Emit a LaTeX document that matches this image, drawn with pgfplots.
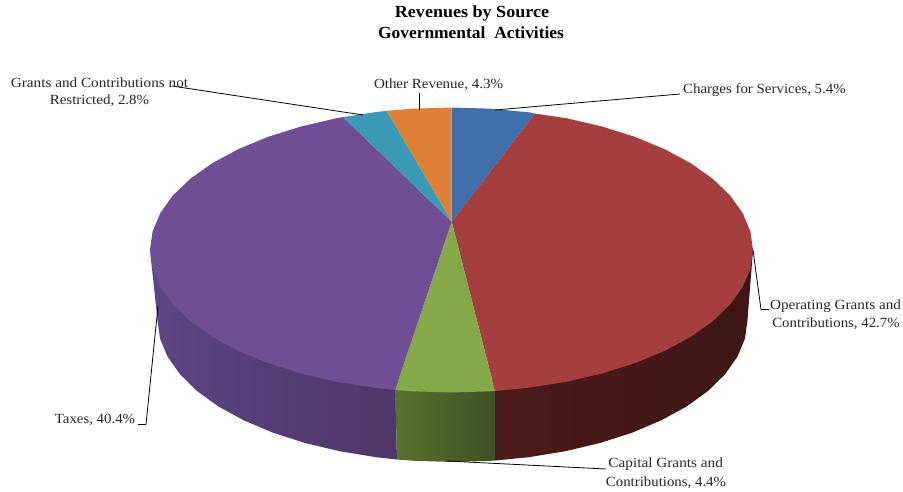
\documentclass[border=0pt]{standalone}
\usepackage{pgfplots}
\pgfplotsset{compat=1.18}
\usepackage{fontspec}
\setmainfont{Liberation Serif}
\definecolor{cblue}{RGB}{63,112,172}
\definecolor{cred}{RGB}{165,62,62}
\definecolor{cgreen}{RGB}{133,168,72}
\definecolor{cpurple}{RGB}{111,78,148}
\definecolor{cteal}{RGB}{58,154,181}
\definecolor{corange}{RGB}{222,128,53}
\definecolor{spurpleA}{RGB}{92,70,132}
\definecolor{spurpleB}{RGB}{78,54,104}
\definecolor{sgreenA}{RGB}{88,114,46}
\definecolor{sgreenB}{RGB}{62,82,36}
\definecolor{sredA}{RGB}{74,27,25}
\definecolor{sredB}{RGB}{62,22,20}
\tikzset{
    lbl/.style={font=\fontsize{14}{14}\selectfont, text=black!85, inner sep=0pt},
    ttl/.style={font=\fontsize{17}{17}\selectfont\bfseries, text=black, inner sep=0pt},
}
\begin{document}
\begin{tikzpicture}
\begin{axis}[
    scale only axis,
    width=903pt, height=492pt,
    xmin=0, xmax=903, ymin=0, ymax=492,
    y dir=reverse,
    hide axis,
    clip=false,
    no markers,
    every axis plot/.append style={line join=round},
]
% white page, keeps the picture at the full size
\addplot[fill=white, draw=none] coordinates {(0,0) (903,0) (903,492) (0,492)} --cycle;
% side walls, drawn first
\addplot[shade, left color=spurpleA, right color=spurpleB, draw=none] coordinates {
    (150,250) (157.5,320) (160,338.5) (167.6,356.8) (180,374.3) (197,391) (218.4,406.5)
    (243.9,420.4) (272.9,432.7) (305,443) (339.6,451.2) (376.2,457.2) (397,459.5) (395,380)
} --cycle;
\addplot[shade, left color=sgreenA, right color=sgreenB, draw=none] coordinates {
    (395,380) (397,459.5) (414,460.8) (452.5,462) (491,460.8) (495,460.5) (495,380)
} --cycle;
\addplot[shade, left color=sredA, right color=sredB, draw=none] coordinates {
    (495,380) (495,460.5) (528.8,457.2) (565.4,451.2) (600,443) (632.1,432.7) (661.1,420.4)
    (686.6,406.5) (708,391) (725,374.3) (737.4,356.8) (745,338.5) (747.5,320) (753,250)
} --cycle;
% top face
\addplot[fill=cblue, draw=none] coordinates {
    (451.7,221.7) (451.5,107.5) (490.8,108.7) (529.5,112.4) (535,113.6)
} --cycle;
\addplot[fill=cred, draw=none] coordinates {
    (451.7,221.7) (535,113.6) (566.9,118.3) (602.3,126.6) (635.1,136.9) (664.7,149.2)
    (690.7,163.2) (712.6,178.7) (730.1,195.5) (742.7,213.1) (750.4,231.4) (753,250)
    (750.4,268.6) (742.7,286.9) (730.1,304.5) (712.6,321.3) (690.7,336.8) (664.7,350.8)
    (635.1,363.1) (602.3,373.4) (566.9,381.7) (529.5,387.6) (495,391)
} --cycle;
\addplot[fill=cgreen, draw=none] coordinates {
    (451.7,221.7) (495,391) (490.8,391.3) (451.5,392.5) (412.2,391.3) (395,390)
} --cycle;
\addplot[fill=cpurple, draw=none] coordinates {
    (451.7,221.7) (395,390) (373.5,387.6) (336.1,381.7) (300.7,373.4) (267.9,363.1)
    (238.3,350.8) (212.3,336.8) (190.4,321.3) (172.9,304.5) (160.3,286.9) (152.6,268.6)
    (150,250) (152.6,231.4) (160.3,213.1) (172.9,195.5) (190.4,178.7) (212.3,163.2)
    (238.3,149.2) (267.9,136.9) (300.7,126.6) (336.1,118.3) (343,117.1)
} --cycle;
\addplot[fill=cteal, draw=none] coordinates {
    (451.7,221.7) (343,117.1) (373.5,112.4) (386.7,110.8)
} --cycle;
\addplot[fill=corange, draw=none] coordinates {
    (451.7,221.7) (386.7,110.8) (412.2,108.7) (451.5,107.5)
} --cycle;
% leader lines
\addplot[black, line width=0.8pt] coordinates {(172,86) (363,115)};
\addplot[black, line width=0.8pt] coordinates {(419,93) (419,110)};
\addplot[black, line width=0.8pt] coordinates {(495,110) (680,94)};
\addplot[black, line width=0.8pt] coordinates {(753,250) (761,309.5) (769,309.5)};
\addplot[black, line width=0.8pt] coordinates {(447,461) (606,469)};
\addplot[black, line width=0.8pt] coordinates {(158,306) (146,424.5) (138,424.5)};
% texts
\node[ttl, xscale=1.062] at (axis cs:472,13) {Revenues by Source};
\node[ttl, xscale=1.026] at (axis cs:471,33) {Governmental\ \ Activities};
\node[lbl, xscale=1.088] at (axis cs:99.5,83) {Grants and Contributions not};
\node[lbl, xscale=1.069] at (axis cs:99.5,101) {Restricted, 2.8\%};
\node[lbl, xscale=1.07] at (axis cs:438.5,85) {Other Revenue, 4.3\%};
\node[lbl, xscale=1.066] at (axis cs:764.5,90) {Charges for Services, 5.4\%};
\node[lbl, xscale=1.086] at (axis cs:835.5,306) {Operating Grants and};
\node[lbl, xscale=1.061] at (axis cs:836,324) {Contributions, 42.7\%};
\node[lbl, xscale=1.09] at (axis cs:665.7,464) {Capital Grants and};
\node[lbl, xscale=1.061] at (axis cs:666,482.5) {Contributions, 4.4\%};
\node[lbl, xscale=1.061] at (axis cs:95,420) {Taxes, 40.4\%};
\end{axis}
\end{tikzpicture}
\end{document}
